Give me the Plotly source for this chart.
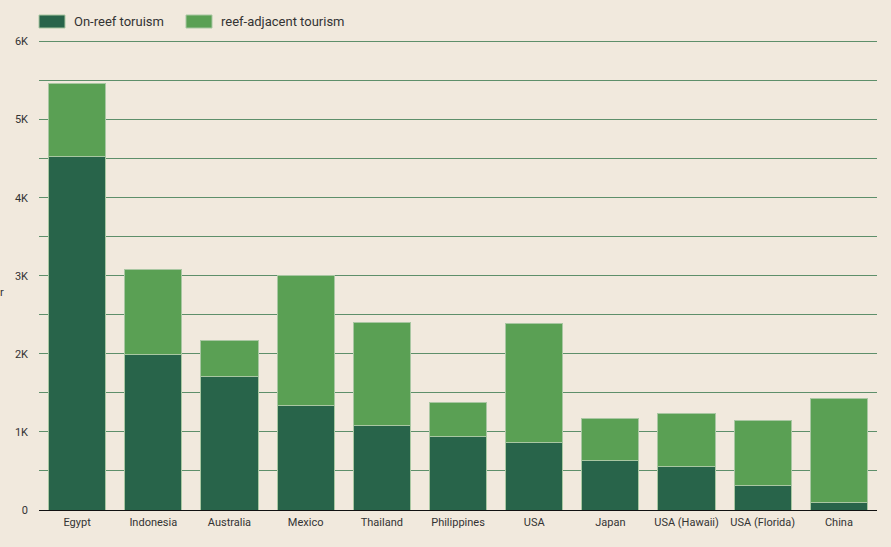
import plotly.graph_objects as go

countries = ["Egypt", "Indonesia", "Australia", "Mexico", "Thailand", "Philippines",
             "USA", "Japan", "USA (Hawaii)", "USA (Florida)", "China"]
on_reef = [4530, 1990, 1705, 1335, 1077, 936, 859, 628, 551, 308, 90]
reef_adjacent = [930, 1087, 462, 1665, 1320, 436, 1526, 539, 679, 833, 1333]
series_names = ["On-reef toruism", "reef-adjacent tourism"]
y_tick_vals = [0, 1000, 2000, 3000, 4000, 5000, 6000]
y_tick_text = ["0", "1K", "2K", "3K", "4K", "5K", "6K"]

dark = "#28644A"
light = "#5AA054"
bg = "#F1E9DD"
edge = "#A9C7A2"
grid = "#5E8F6A"

W, H = 891, 547
ML, MR, MT, MB = 39, 14, 40, 37
PW, PH = W - ML - MR, H - MT - MB


def px_x(p):
    return (p - ML) / PW


def px_y(p):
    return (H - MB - p) / PH


fig = go.Figure()
fig.add_trace(go.Bar(x=countries, y=on_reef, name=series_names[0], showlegend=False,
                     marker=dict(color=dark, line=dict(color=edge, width=1))))
fig.add_trace(go.Bar(x=countries, y=reef_adjacent, name=series_names[1], showlegend=False,
                     marker=dict(color=light, line=dict(color=edge, width=1))))

# custom legend (wide rectangular swatches)
legend_shapes = []
legend_annots = []
for (sx, tx), name, col in zip([(39, 72), (186, 219)], series_names, [dark, light]):
    legend_shapes.append(dict(type="rect", xref="paper", yref="paper",
                              x0=px_x(sx), x1=px_x(sx + 26), y0=px_y(28), y1=px_y(15),
                              fillcolor=col, line=dict(color=edge, width=1)))
    legend_annots.append(dict(text=name, xref="paper", yref="paper", x=px_x(tx),
                              xanchor="left", y=px_y(21.5), yanchor="middle",
                              showarrow=False, font=dict(size=13, color="#333333")))

fig.update_layout(
    barmode="stack",
    bargap=0.25,
    width=W, height=H,
    paper_bgcolor=bg, plot_bgcolor=bg,
    margin=dict(l=ML, r=MR, t=MT, b=MB, autoexpand=False),
    font=dict(family="Roboto, sans-serif", size=11, color="#333333"),
    showlegend=False,
    xaxis=dict(showgrid=False, ticks="", showline=True, linecolor="#111111",
               linewidth=1, range=[-0.5, 10.5], tickfont=dict(size=11),
               ticklabelstandoff=2),
    yaxis=dict(range=[0, 6020], tickvals=y_tick_vals, ticktext=y_tick_text,
               showgrid=True, gridcolor=grid, gridwidth=1, zeroline=False,
               ticks="", ticklabelstandoff=10,
               minor=dict(dtick=500, showgrid=True, gridcolor=grid, gridwidth=1),
               tickfont=dict(size=11)),
    shapes=legend_shapes,
    annotations=legend_annots + [dict(text="r", xref="paper", yref="paper", x=px_x(6),
                                      xanchor="right", y=px_y(292), yanchor="middle",
                                      showarrow=False,
                                      font=dict(size=11, color="#333333"))],
)

fig.write_html("out.html", config={"displayModeBar": False},
               post_script="document.body.style.margin='0';")
